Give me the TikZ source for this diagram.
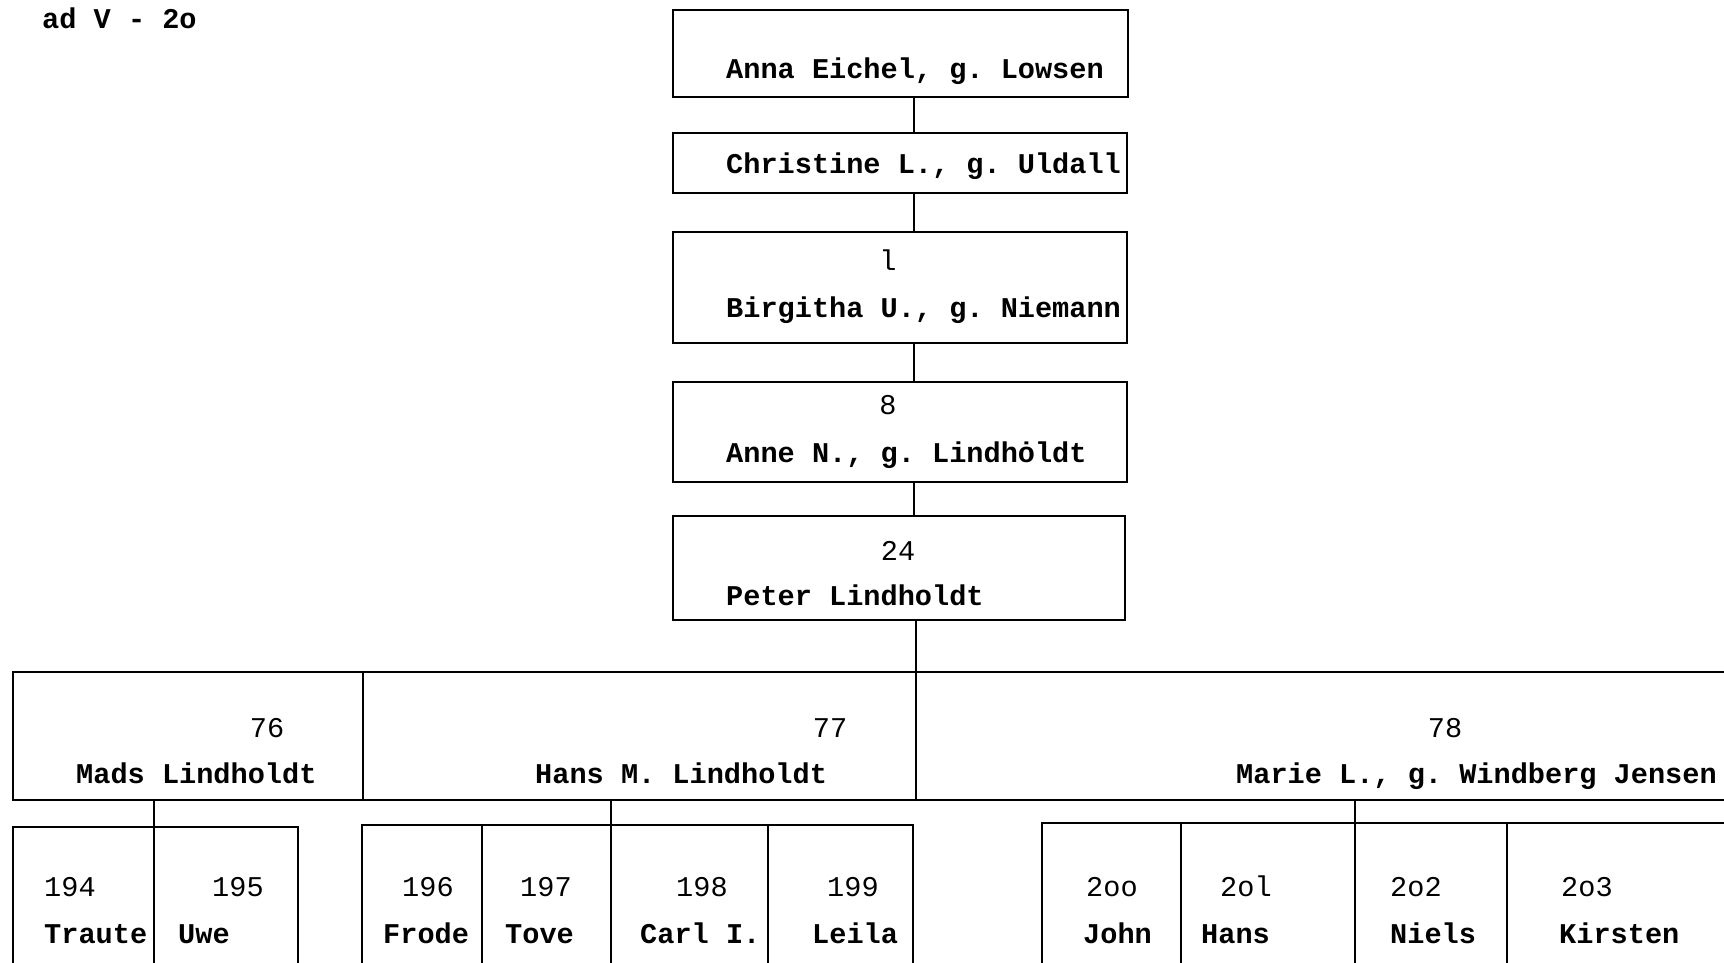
\documentclass[tikz,border=0pt]{standalone}
\usepackage{fontspec}
\newfontfamily\tw{Liberation Mono}
\frenchspacing
\tikzset{
  ln/.style={line width=2.5pt, black},
  box/.style={draw, line width=2.5pt, rectangle, inner sep=0pt, outer sep=0pt, anchor=north west},
  nm/.style={anchor=base west, inner sep=0pt, font=\tw\bfseries\fontsize{28.6}{30}\selectfont},
  num/.style={anchor=base west, inner sep=0pt, font=\tw\fontsize{28.6}{30}\selectfont},
  numc/.style={anchor=base, inner sep=0pt, font=\tw\fontsize{28.6}{30}\selectfont}
}
\begin{document}
\begin{tikzpicture}[x=1pt,y=-1pt]
\useasboundingbox (0,0) rectangle (1724,962);
% header
\node[nm] (hdr) at (42,28) {ad V - 2o};
% ancestor boxes
\node[box, minimum width=455pt, minimum height=87pt] (b1) at (673,10) {};
\node[box, minimum width=454pt, minimum height=60pt] (b2) at (673,133) {};
\node[box, minimum width=454pt, minimum height=111pt] (b3) at (673,232) {};
\node[box, minimum width=454pt, minimum height=100pt] (b4) at (673,382) {};
\node[box, minimum width=452pt, minimum height=104pt] (b5) at (673,516) {};
\coordinate (sp) at (914,0);
\node[nm] (t1) at (726,78) {Anna Eichel, g. Lowsen};
\node[nm] (t2) at (726,173) {Christine L., g. Uldall};
\node[numc] (n3) at (888,270) {l};
\node[nm] (t3) at (726,317) {Birgitha U., g. Niemann};
\node[numc] (n4) at (888,414) {8};
\node[nm] (t4) at (726,462) {Anne N., g. Lindhȯldt};
\node[numc] (n5) at (898,560) {24};
\node[nm] (t5) at (726,605) {Peter Lindholdt};
\draw[ln] (b1.south -| sp) -- (b2.north -| sp);
\draw[ln] (b2.south -| sp) -- (b3.north -| sp);
\draw[ln] (b3.south -| sp) -- (b4.north -| sp);
\draw[ln] (b4.south -| sp) -- (b5.north -| sp);
% children row
\node[box, minimum width=350pt, minimum height=128pt] (mads) at (13,672) {};
\node[box, minimum width=553pt, minimum height=128pt] (hans) at (363,672) {};
\node[box, minimum width=830pt, minimum height=128pt] (marie) at (916,672) {};
\draw[ln] (b5.south -| hans.north east) -- (hans.north east);
\node[numc] (n76) at (267,737) {76};
\node[nm] (tm) at (76,783) {Mads Lindholdt};
\node[numc] (n77) at (830,737) {77};
\node[nm] (th) at (535,783) {Hans M. Lindholdt};
\node[numc] (n78) at (1445,737) {78};
\node[nm] (tmj) at (1236,783) {Marie L., g. Windberg Jensen};
% grandchildren: Mads
\node[box, minimum width=141pt, minimum height=170pt] (k194) at (13,827) {};
\node[box, minimum width=144pt, minimum height=170pt] (k195) at (154,827) {};
\draw[ln] (mads.south -| k194.north east) -- (k194.north east);
% grandchildren: Hans
\node[box, minimum width=120pt, minimum height=170pt] (k196) at (362,825) {};
\node[box, minimum width=129pt, minimum height=170pt] (k197) at (482,825) {};
\node[box, minimum width=157pt, minimum height=170pt] (k198) at (611,825) {};
\node[box, minimum width=145pt, minimum height=170pt] (k199) at (768,825) {};
\draw[ln] (hans.south -| k197.north east) -- (k197.north east);
% grandchildren: Marie
\node[box, minimum width=139pt, minimum height=170pt] (k200) at (1042,823) {};
\node[box, minimum width=174pt, minimum height=170pt] (k201) at (1181,823) {};
\node[box, minimum width=152pt, minimum height=170pt] (k202) at (1355,823) {};
\node[box, minimum width=240pt, minimum height=170pt] (k203) at (1507,823) {};
\draw[ln] (marie.south -| k201.north east) -- (k201.north east);
% grandchildren texts
\node[num] (n194) at (44,896) {194};
\node[nm] (g194) at (44,943) {Traute};
\node[num] (n195) at (212,896) {195};
\node[nm] (g195) at (178,943) {Uwe};
\node[num] (n196) at (402,896) {196};
\node[nm] (g196) at (383,943) {Frode};
\node[num] (n197) at (520,896) {197};
\node[nm] (g197) at (505,943) {Tove};
\node[num] (n198) at (676,896) {198};
\node[nm] (g198) at (640,943) {Carl I.};
\node[num] (n199) at (827,896) {199};
\node[nm] (g199) at (812,943) {Leila};
\node[num] (n200) at (1086,896) {2oo};
\node[nm] (g200) at (1083,943) {John};
\node[num] (n201) at (1220,896) {2ol};
\node[nm] (g201) at (1201,943) {Hans};
\node[num] (n202) at (1390,896) {2o2};
\node[nm] (g202) at (1390,943) {Niels};
\node[num] (n203) at (1561,896) {2o3};
\node[nm] (g203) at (1559,943) {Kirsten};
\end{tikzpicture}
\end{document}
